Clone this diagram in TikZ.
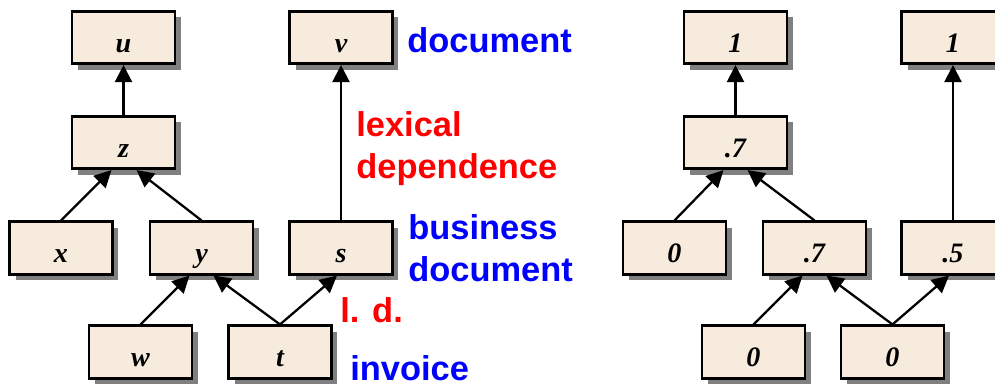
\documentclass[tikz,border=0pt]{standalone}
\usepackage{fontspec}
\setmainfont{Liberation Serif}
\setsansfont{Liberation Sans}
\usepackage{xcolor}
\usepackage{tikz}
\usetikzlibrary{shapes, arrows.meta, positioning, shadows}

\definecolor{boxfill}{RGB}{246,235,220}
\tikzset{
    wordbox/.style={draw, rectangle, line width=1.5pt, fill=boxfill,
        minimum width=2.06cm, minimum height=1.05cm, inner sep=0pt,
        text height=0.58cm, text depth=0pt,
        font=\fontsize{16}{16}\selectfont\bfseries\itshape,
        drop shadow={shadow xshift=0.12cm, shadow yshift=-0.12cm, fill=gray, opacity=1}},
    link/.style={line width=1.3pt, -{Triangle[length=0.34cm, width=0.34cm]}},
    note/.style={anchor=base west, inner sep=0pt, align=left,
        font=\sffamily\bfseries\fontsize{19.6}{23.5}\selectfont}
}

\begin{document}
\begin{tikzpicture}[x=0.02cm, y=-0.02cm]
    \useasboundingbox (0,0) rectangle (995,383);

    % left tree: words
    \node[wordbox] (u) at (123.5,37.5) {u};
    \node[wordbox] (z) at (123.5,142.5) {z};
    \node[wordbox] (x) at (61,248) {x};
    \node[wordbox] (y) at (201.5,248) {y};
    \node[wordbox] (s) at (341,248) {s};
    \node[wordbox] (v) at (341,37.5) {v};
    \node[wordbox] (w) at (140.5,352) {w};
    \node[wordbox] (t) at (280,352) {t};

    \draw[link] (z.north) -- (u.south);
    \draw[link] (x.north) -- ([xshift=-0.24cm]z.south);
    \draw[link] (y.north) -- ([xshift=0.26cm]z.south);
    \draw[link] (w.north) -- ([xshift=-0.24cm]y.south);
    \draw[link] (t.north) -- ([xshift=0.24cm]y.south);
    \draw[link] (t.north) -- ([xshift=-0.08cm]s.south);
    \draw[link] (s.north) -- (v.south);

    % labels
    \node[note, text=blue] (ldoc) at (407,52) {document};
    \node[note, text=red] (llex) at (356,178) {lexical\\dependence};
    \node[note, text=blue] (lbus) at (408,281) {business\\document};
    \node[note, text=red] (lld) at (340,322) {l. d.};
    \node[note, text=blue] (linv) at (350,380) {invoice};

    % right tree: values
    \node[wordbox] (r1a) at (735.5,37.5) {1};
    \node[wordbox] (r1b) at (953,37.5) {1};
    \node[wordbox] (r7a) at (735.5,142.5) {.7};
    \node[wordbox] (r0a) at (674.5,248) {0};
    \node[wordbox] (r7b) at (814.5,248) {.7};
    \node[wordbox] (r5) at (953,248) {.5};
    \node[wordbox] (r0b) at (753.5,352) {0};
    \node[wordbox] (r0c) at (892.5,352) {0};

    \draw[link] (r7a.north) -- (r1a.south);
    \draw[link] (r0a.north) -- ([xshift=-0.24cm]r7a.south);
    \draw[link] (r7b.north) -- ([xshift=0.24cm]r7a.south);
    \draw[link] (r0b.north) -- ([xshift=-0.24cm]r7b.south);
    \draw[link] (r0c.north) -- ([xshift=0.24cm]r7b.south);
    \draw[link] (r0c.north) -- ([xshift=-0.08cm]r5.south);
    \draw[link] (r5.north) -- (r1b.south);
\end{tikzpicture}
\end{document}
